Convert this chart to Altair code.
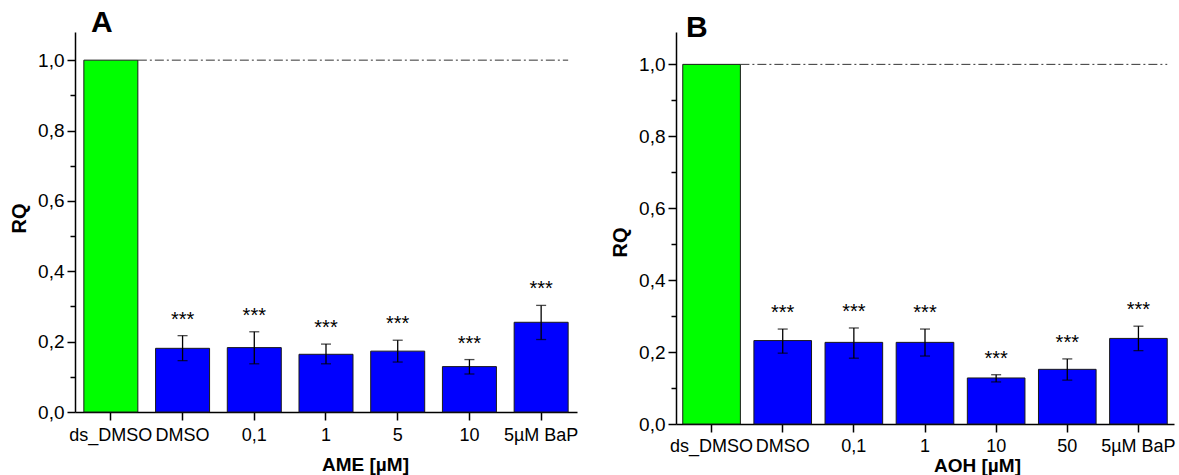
import altair as alt
import pandas as pd

# ---- data ----
groups = ["control", "treated", "treated", "treated", "treated", "treated", "treated"]
stars = ["", "***", "***", "***", "***", "***", "***"]

cats_a = ["ds_DMSO", "DMSO", "0,1", "1", "5", "10", "5µM BaP"]
rq_a = [1.0, 0.181, 0.183, 0.164, 0.173, 0.129, 0.255]
lo_a = [1.0, 0.146, 0.137, 0.137, 0.142, 0.108, 0.206]
hi_a = [1.0, 0.217, 0.228, 0.193, 0.204, 0.149, 0.303]

cats_b = ["ds_DMSO", "DMSO", "0,1", "1", "10", "50", "5µM BaP"]
rq_b = [1.0, 0.232, 0.227, 0.227, 0.128, 0.152, 0.238]
lo_b = [1.0, 0.197, 0.183, 0.189, 0.117, 0.122, 0.204]
hi_b = [1.0, 0.264, 0.267, 0.264, 0.137, 0.181, 0.272]

major_ticks = [0.0, 0.2, 0.4, 0.6, 0.8, 1.0]
minor_ticks = [0.1, 0.3, 0.5, 0.7, 0.9]
y_max_a = 1.08
y_max_b = 1.09

FONT = "Liberation Sans"


def panel(cats, rq, lo, hi, xtitle, letter, w, h, y_max, pinner, title_offset,
          title_dx, xtitle_x, xtitle_y, ytitle_y, xlabel_pad):
    df = pd.DataFrame({"cat": cats, "rq": rq, "lo": lo, "hi": hi,
                       "sig": stars, "grp": groups})
    xs = alt.Scale(domain=cats, paddingInner=pinner, paddingOuter=pinner / 2)
    ys = alt.Scale(domain=[0, y_max], nice=False, zero=True)

    xaxis = alt.Axis(orient="bottom", labelAngle=0, labelFont=FONT,
                     labelFontSize=18, labelColor="black",
                     labelPadding=xlabel_pad, labelOverlap=False, tickSize=8,
                     tickWidth=1.5, tickColor="black", domainColor="black",
                     domainWidth=1.5, grid=False, title=xtitle,
                     titleFont=FONT, titleFontSize=19,
                     titleFontWeight="bold", titleColor="black",
                     titleX=xtitle_x, titleY=xtitle_y,
                     titleBaseline="alphabetic", titleAlign="center")
    yaxis = alt.Axis(values=major_ticks, orient="left",
                     labelExpr="replace(format(datum.value, '.1f'), '.', ',')",
                     tickSize=8, tickWidth=1.5, tickColor="black",
                     domainColor="black", domainWidth=1.5, grid=False,
                     labelFont=FONT, labelFontSize=19, labelColor="black",
                     labelPadding=3, title="RQ", titleFont=FONT,
                     titleFontSize=20, titleFontWeight="bold",
                     titleColor="black", titlePadding=8, titleY=ytitle_y)
    minor_axis = alt.Axis(values=minor_ticks, orient="left", tickSize=5,
                          tickWidth=1.5, tickColor="black", labels=False,
                          domain=False, grid=False, title=None)

    base = alt.Chart(df)
    bars = base.mark_bar(stroke="#1a1a1a", strokeWidth=1).encode(
        x=alt.X("cat:N", scale=xs, sort=cats, axis=xaxis),
        y=alt.Y("rq:Q", scale=ys, axis=yaxis),
        color=alt.Color("grp:N", scale=alt.Scale(domain=["control", "treated"],
                                                 range=["#00ff00", "#0000ff"]),
                        legend=None),
    )
    eb = base.transform_filter("datum.hi > datum.lo")
    whisk = eb.mark_rule(color="black", strokeWidth=1.3).encode(
        x=alt.X("cat:N", scale=xs, sort=cats, axis=None),
        y=alt.Y("lo:Q", scale=ys, axis=minor_axis),
        y2="hi:Q",
    )
    cap_hi = eb.mark_tick(color="black", orient="horizontal", size=10,
                          thickness=1.3).encode(
        x=alt.X("cat:N", scale=xs, sort=cats, axis=None),
        y=alt.Y("hi:Q", scale=ys, axis=None),
    )
    cap_lo = eb.mark_tick(color="black", orient="horizontal", size=10,
                          thickness=1.3).encode(
        x=alt.X("cat:N", scale=xs, sort=cats, axis=None),
        y=alt.Y("lo:Q", scale=ys, axis=None),
    )
    sig = eb.mark_text(font=FONT, fontSize=20, baseline="alphabetic", dy=-10,
                       color="black").encode(
        x=alt.X("cat:N", scale=xs, sort=cats, axis=None),
        y=alt.Y("hi:Q", scale=ys, axis=None),
        text="sig:N",
    )
    ref_df = pd.DataFrame({"cat": [cats[0], cats[-1]], "v": [1.0, 1.0]})
    ref = alt.Chart(ref_df).mark_line(color="#333333", strokeWidth=1,
                                      strokeDash=[9, 3, 2, 3]).encode(
        x=alt.X("cat:N", scale=xs, sort=cats, axis=None, bandPosition=1),
        y=alt.Y("v:Q", scale=ys, axis=None),
    )
    return alt.layer(bars, ref, whisk, cap_hi, cap_lo, sig).resolve_axis(
        x="independent", y="independent"
    ).properties(
        width=w, height=h,
        title=alt.TitleParams(text=letter, anchor="start", frame="group",
                              fontSize=30, font=FONT, fontWeight="bold",
                              color="black", baseline="alphabetic",
                              offset=title_offset, dx=title_dx),
    )


pa = panel(cats_a, rq_a, lo_a, hi_a, "AME [µM]", "A", 502, 380, y_max_a,
           0.247, -30, 16, 290, 58, 186, 6)
pb = panel(cats_b, rq_b, lo_b, hi_b, "AOH [µM]", "B", 498, 392, y_max_b,
           0.19, -35, 10, 301, 47, 210, 5)

chart = alt.hconcat(pa, pb, spacing=32).properties(
    padding={"left": 9, "top": 8, "right": 0, "bottom": 0}
).configure(font=FONT).configure_view(stroke=None)

chart.save("out.html", embed_options={"renderer": "svg", "actions": False})
